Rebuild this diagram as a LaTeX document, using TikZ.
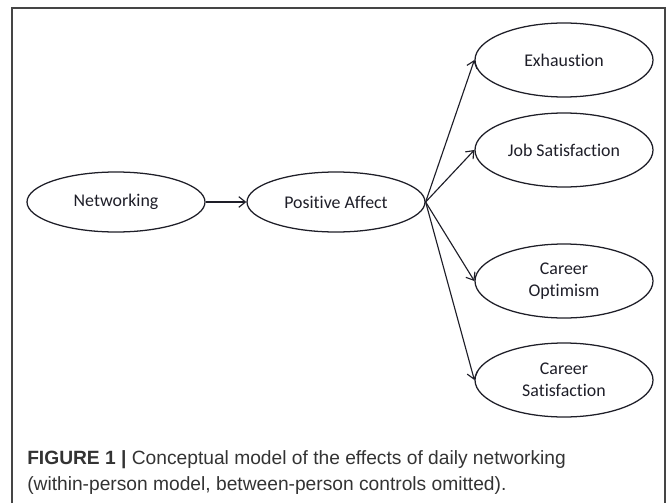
\documentclass[tikz,border=0pt]{standalone}
\usepackage{fontspec}
\setmainfont{Liberation Sans}
\newfontfamily\calibrifont[Ligatures=NoCommon]{Carlito}
\usetikzlibrary{shapes.geometric,arrows.meta}
\definecolor{inkdark}{HTML}{1E1E28}
\definecolor{framegray}{HTML}{454545}
\definecolor{captiongray}{HTML}{333333}
\begin{document}
\begin{tikzpicture}[
      x=0.75pt, y=-0.75pt,
      construct/.style={draw=inkdark, ellipse, line width=0.95pt, inner sep=0pt,
        minimum width=133.5pt, align=center, text=inkdark,
        font=\calibrifont\fontsize{13.4}{16.5}\selectfont},
      small/.style={construct, minimum height=45pt},
      tall/.style={construct, minimum height=55.5pt},
      path/.style={draw=inkdark, line width=0.85pt, -{Straight Barb[length=5pt,width=8pt]}},
      caption/.style={anchor=base west, inner sep=0pt, text=captiongray,
        font=\fontsize{14.4}{19.5}\selectfont}
    ]
      \useasboundingbox (0,0) rectangle (667,503);
      \draw[framegray, line width=1.1pt] (12,503) -- (12,8) -- (665,8) -- (665,503);

      \node[small] (net) at (116,202) {Networking};
      \node[small] (pa) at (336,202) {Positive Affect};
      \node[tall] (exh) at (564,60) {Exhaustion};
      \node[tall] (jobsat) at (564,150) {Job Satisfaction};
      \node[tall] (caropt) at (564,281) {Career\\Optimism};
      \node[tall] (carsat) at (564,380) {Career\\Satisfaction};

      \draw[path] (net) -- (pa);
      \foreach \target in {exh, jobsat, caropt, carsat}
        \draw[path] (pa.east) -- (\target.west);

      \node[caption] (cap1) at (27,464) {\textbf{FIGURE 1} \textbf{|} Conceptual model of the effects of daily networking};
      \node[caption] (cap2) at (27,490) {(within-person model, between-person controls omitted).};
    \end{tikzpicture}
\end{document}
